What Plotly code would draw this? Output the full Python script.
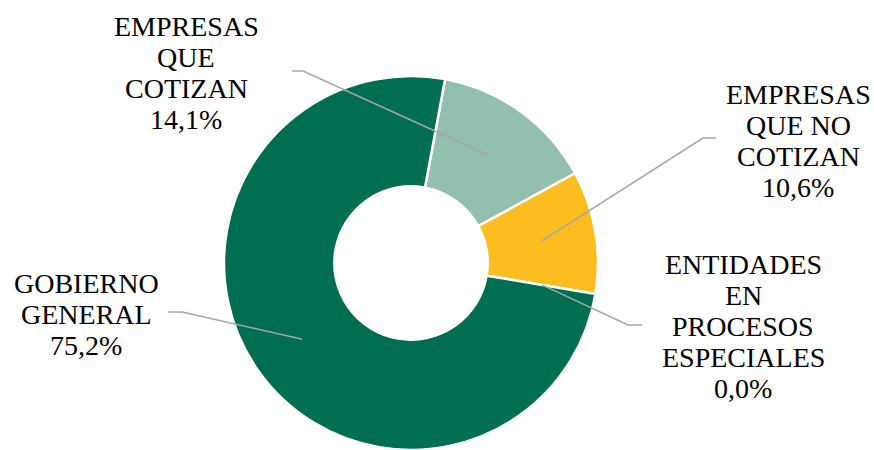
import math
import plotly.graph_objects as go

# ---- data ----
categories = ["EMPRESAS QUE COTIZAN", "EMPRESAS QUE NO COTIZAN",
              "ENTIDADES EN PROCESOS ESPECIALES", "GOBIERNO GENERAL"]
values = [14.1, 10.6, 0.0, 75.2]
value_labels = ["14,1%", "10,6%", "0,0%", "75,2%"]
label_lines = [["EMPRESAS", "QUE", "COTIZAN"],
               ["EMPRESAS", "QUE NO", "COTIZAN"],
               ["ENTIDADES", "EN", "PROCESOS", "ESPECIALES"],
               ["GOBIERNO", "GENERAL"]]

# ---- styles / layout ----
colors = ["#93BFAF", "#FDBD1F", "#7F7F7F", "#006E51"]
W, H = 874, 450
CX, CY, R = 411, 263, 187
HOLE = 0.41
ROT = 10.5
FONT = "Liberation Serif"
FSIZE = 28
LINE_H = 31
# label block: (center x, first-line center y) in pixels
label_pos = [(186, 26), (798, 94), (743, 264), (86, 283)]
# leader line: (label-side end, elbow) in pixels
leader_pts = [((292, 71), (303, 71)),
              ((716, 138), (703, 138)),
              ((642, 325), (628, 325)),
              ((168, 312), (182, 312))]
LEADER_R = 0.71

fig = go.Figure()
fig.add_trace(go.Pie(
    labels=categories, values=values, sort=False, direction="clockwise",
    rotation=ROT, hole=HOLE, textinfo="none", hoverinfo="none",
    showlegend=False,
    marker=dict(colors=colors, line=dict(color="white", width=2.5)),
    domain=dict(x=[(CX - R) / W, (CX + R) / W],
                y=[max(0.0, (H - CY - R) / H), (H - CY + R) / H]),
))

def px(x):
    return x / W

def py(y):
    return 1 - y / H

total = sum(values)
cum = 0.0
annotations = []
shapes = []
for i, v in enumerate(values):
    mid = ROT + 360.0 * (cum + v / 2.0) / total
    cum += v
    a = math.radians(mid)
    rr = LEADER_R * R
    ix, iy = CX + rr * math.sin(a), CY - rr * math.cos(a)
    (x0, y0), (x1, y1) = leader_pts[i]
    shapes.append(dict(
        type="path", xref="paper", yref="paper",
        path=f"M {px(x0)},{py(y0)} L {px(x1)},{py(y1)} L {px(ix)},{py(iy)}",
        line=dict(color="#A6A6A6", width=1.5)))
    lx, ly = label_pos[i]
    for j, t in enumerate(label_lines[i] + [value_labels[i]]):
        annotations.append(dict(
            text=t, x=px(lx), y=py(ly + j * LINE_H), xref="paper", yref="paper",
            xanchor="center", yanchor="middle", showarrow=False,
            font=dict(family=FONT, size=FSIZE, color="black")))

fig.update_layout(
    width=W, height=H, margin=dict(l=0, r=0, t=0, b=0),
    paper_bgcolor="white", plot_bgcolor="white",
    annotations=annotations, shapes=shapes,
)
fig.write_html(
    "out.html",
    config={"displayModeBar": False},
    post_script="document.body.style.margin='0';document.body.style.overflow='hidden';",
)
